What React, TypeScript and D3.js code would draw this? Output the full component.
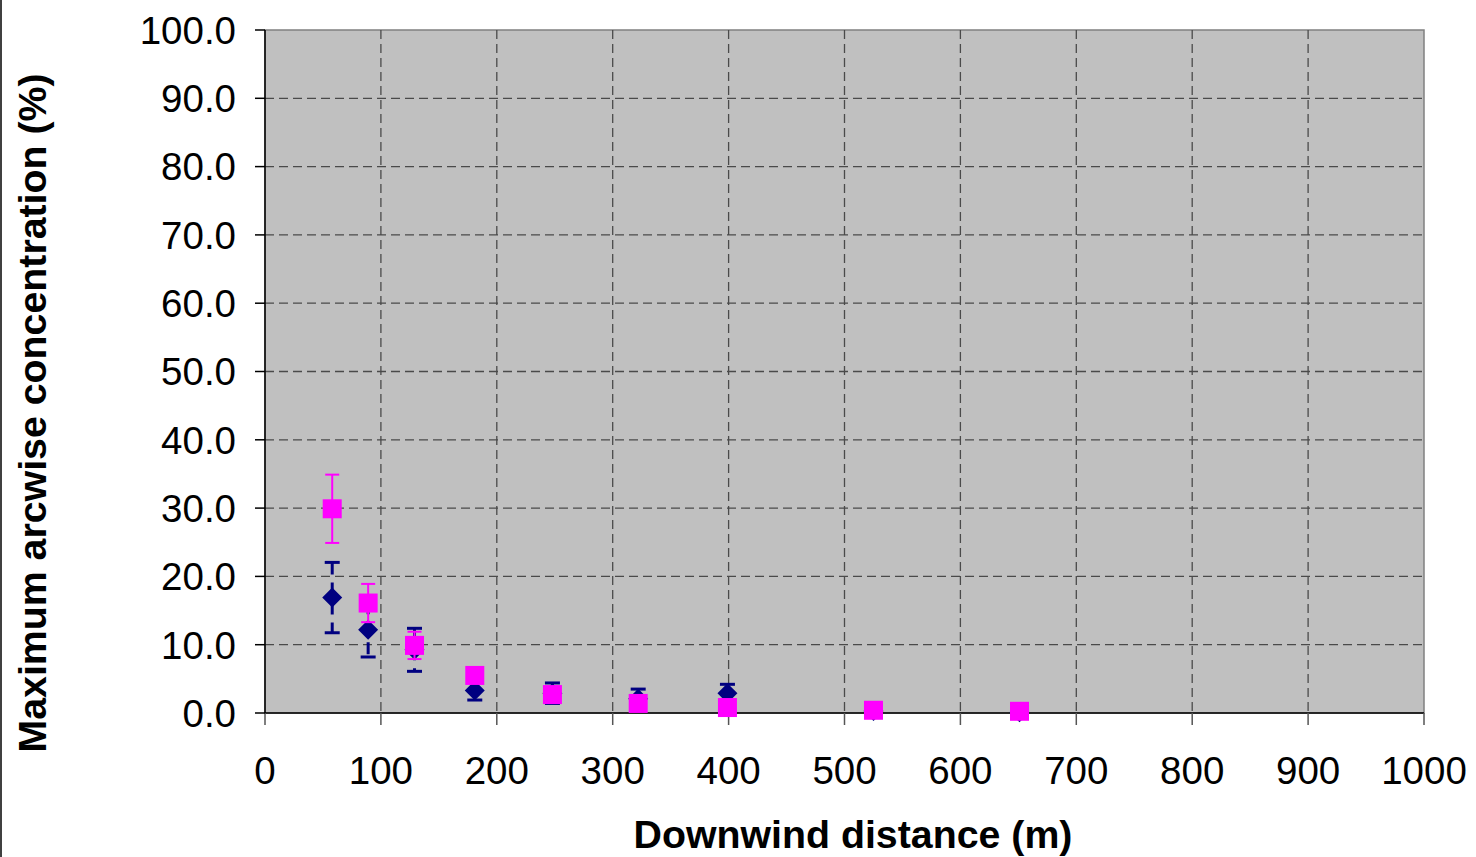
import React from "react";
import * as d3 from "d3";

const distances = [58, 89, 129, 181, 248, 322, 399, 525, 651];
const blueValues = [16.9, 12.2, 9.25, 3.3, 2.9, 2.1, 2.9, 0.3, 0.1];
const blueErrors = [5.15, 4.0, 3.15, 1.4, 1.5, 1.4, 1.3, 0.2, 0.1];
const pinkValues = [29.9, 16.1, 9.9, 5.5, 2.7, 1.4, 0.8, 0.4, 0.25];
const pinkErrors = [5.0, 2.8, 2.0, 0.5, 0.4, 0.3, 0.2, 0.1, 0.1];
const xTicks = [0, 100, 200, 300, 400, 500, 600, 700, 800, 900, 1000];
const yTicks = [0, 10, 20, 30, 40, 50, 60, 70, 80, 90, 100];

const W = 1476;
const H = 857;
const L = 265, R = 1424, T = 30, B = 713;

export default function App() {
  const x = d3.scaleLinear().domain([0, 1000]).range([L, R]);
  const y = d3.scaleLinear().domain([0, 100]).range([B, T]);
  const font = "'Liberation Sans', Arial, sans-serif";
  const navy = "#000080";
  const pink = "#FF00FF";
  const sq = 19;
  const dia = 10;

  return (
    <svg width={W} height={H} style={{ position: "absolute", left: 0, top: 0, background: "#fff" }}>
      <line x1={1} y1={0} x2={1} y2={H} stroke="#404040" strokeWidth={2} />
      <rect x={L} y={T} width={R - L} height={B - T} fill="#C0C0C0" stroke="#808080" strokeWidth={1.5} />
      {xTicks.slice(1, -1).map((t) => (
        <line key={"gx" + t} x1={x(t)} x2={x(t)} y1={T} y2={B} stroke="#4a4a4a" strokeWidth={1.3} strokeDasharray="9,5" />
      ))}
      {yTicks.slice(1, -1).map((t) => (
        <line key={"gy" + t} x1={L} x2={R} y1={y(t)} y2={y(t)} stroke="#4a4a4a" strokeWidth={1.3} strokeDasharray="9,5" />
      ))}
      <line x1={L} x2={L} y1={T} y2={B} stroke="#000" strokeWidth={1.5} />
      <line x1={L} x2={R} y1={B} y2={B} stroke="#000" strokeWidth={1.5} />
      {xTicks.map((t) => (
        <g key={"xt" + t}>
          <line x1={x(t)} x2={x(t)} y1={B} y2={B + 12} stroke="#555" strokeWidth={1.5} />
          <text x={x(t)} y={784} textAnchor="middle" fontFamily={font} fontSize={38.5} fill="#000">{t}</text>
        </g>
      ))}
      {yTicks.map((t) => (
        <g key={"yt" + t}>
          <line x1={L - 10} x2={L} y1={y(t)} y2={y(t)} stroke="#000" strokeWidth={1.5} />
          <text x={236} y={y(t)} dy="0.36em" textAnchor="end" fontFamily={font} fontSize={38.5} fill="#000">{t.toFixed(1)}</text>
        </g>
      ))}
      {/* blue series */}
      {distances.map((d, i) => {
        const cx = x(d);
        const top = y(blueValues[i] + blueErrors[i]);
        const bot = y(blueValues[i] - blueErrors[i]);
        return (
          <g key={"b" + i}>
            <line x1={cx} x2={cx} y1={top} y2={bot} stroke={navy} strokeWidth={3} strokeDasharray="12,8" />
            <line x1={cx - 7.5} x2={cx + 7.5} y1={top} y2={top} stroke={navy} strokeWidth={3} />
            <line x1={cx - 7.5} x2={cx + 7.5} y1={bot} y2={bot} stroke={navy} strokeWidth={3} />
          </g>
        );
      })}
      {distances.map((d, i) => {
        const cx = x(d);
        const cy = y(blueValues[i]);
        return (
          <path key={"bd" + i} d={`M${cx},${cy - dia} L${cx + dia},${cy} L${cx},${cy + dia} L${cx - dia},${cy} Z`} fill={navy} />
        );
      })}
      {/* pink series */}
      {distances.map((d, i) => {
        const cx = x(d);
        const top = y(pinkValues[i] + pinkErrors[i]);
        const bot = y(pinkValues[i] - pinkErrors[i]);
        return (
          <g key={"p" + i}>
            <line x1={cx} x2={cx} y1={top} y2={bot} stroke={pink} strokeWidth={2} />
            <line x1={cx - 7} x2={cx + 7} y1={top} y2={top} stroke={pink} strokeWidth={2} />
            <line x1={cx - 7} x2={cx + 7} y1={bot} y2={bot} stroke={pink} strokeWidth={2} />
          </g>
        );
      })}
      {distances.map((d, i) => (
        <rect key={"ps" + i} x={x(d) - sq / 2} y={y(pinkValues[i]) - sq / 2} width={sq} height={sq} fill={pink} />
      ))}
      <text x={853} y={848} textAnchor="middle" fontFamily={font} fontSize={39.3} fontWeight="bold" fill="#000">Downwind distance (m)</text>
      <text transform="translate(46,413) rotate(-90)" textAnchor="middle" fontFamily={font} fontSize={39.3} fontWeight="bold" fill="#000">Maximum arcwise concentration (%)</text>
    </svg>
  );
}
